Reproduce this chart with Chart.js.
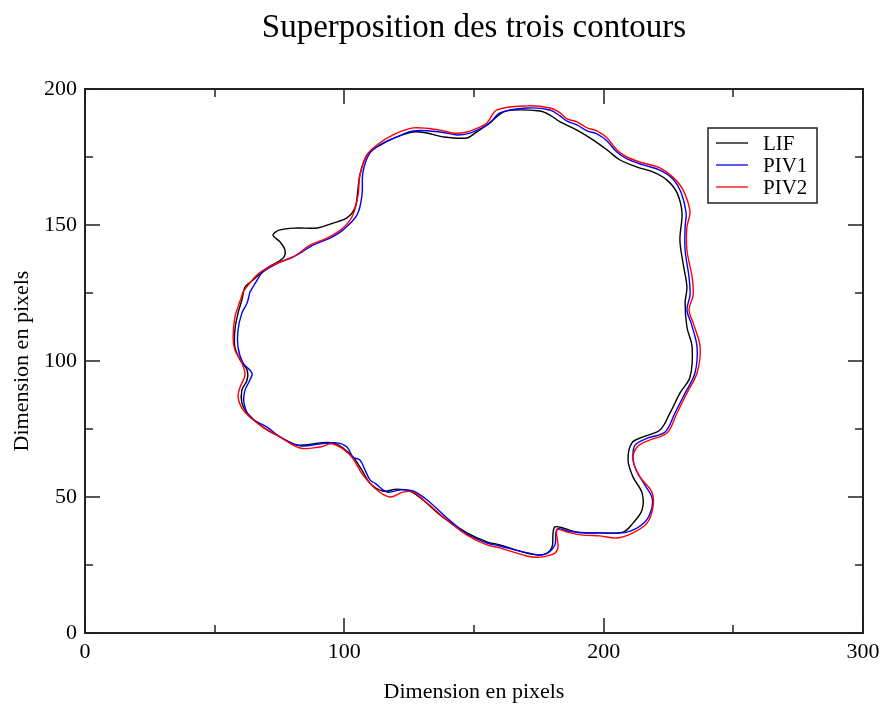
<!DOCTYPE html>
<html lang="fr">
<head>
<meta charset="utf-8">
<title>Superposition des trois contours</title>
<script src="https://cdn.jsdelivr.net/npm/chart.js@4.4.1/dist/chart.umd.min.js"></script>
<style>
  html, body { margin: 0; padding: 0; background: #fff; }
  canvas { display: block; }
</style>
</head>
<body>
<canvas id="chartContours" width="880" height="705"></canvas>
<script>
// Contour LIF
const lifX = [64.8, 70.2, 76.4, 77.1, 75.2, 72.5, 75.2, 81.8, 89.5, 95.6, 101.0, 104.1, 105.3, 106.0, 108.7, 113.8, 120.3, 126.5, 131.9, 138.0,
  147.3, 150.4, 155.0, 157.3, 161.2, 165.0, 175.5, 179.3, 183.2, 189.7, 195.9, 201.3, 206.3, 212.9, 219.0, 224.4, 228.3, 230.2, 229.4, 230.6,
  232.1, 231.4, 232.1, 234.1, 233.3, 229.4, 225.6, 221.7, 215.2, 210.9, 209.4, 211.3, 214.8, 214.8, 211.3, 207.5, 198.6, 189.7, 184.3, 181.2,
  180.5, 180.1, 178.2, 174.3, 167.7, 160.0, 155.0, 147.3, 138.0, 130.3, 125.3, 120.3, 114.9, 109.9, 106.8, 103.3, 99.5, 95.6, 90.6, 81.8,
  75.2, 68.6, 62.5, 60.5, 60.5, 62.5, 62.5, 59.8, 57.8, 57.8, 59.0, 60.5, 61.7, 64.8];
const lifY = [129.8, 134.2, 137.9, 140.8, 143.8, 146.3, 148.2, 148.9, 148.9, 150.7, 152.6, 156.3, 163.6, 168.4, 175.7, 179.4, 182.4, 184.2, 183.8, 182.4,
  182.0, 183.8, 186.8, 188.6, 191.5, 192.3, 191.9, 190.4, 187.9, 184.9, 181.3, 177.6, 173.9, 171.3, 169.5, 166.5, 161.8, 154.4, 144.5, 136.0,
  127.2, 121.3, 112.5, 105.1, 94.1, 88.2, 80.9, 74.6, 72.1, 69.9, 63.6, 57.4, 51.5, 45.2, 40.4, 37.1, 36.8, 37.1, 38.6, 39.0,
  36.8, 31.6, 29.4, 28.7, 30.1, 32.4, 33.5, 36.8, 42.6, 48.9, 52.2, 52.9, 52.2, 55.1, 59.9, 64.7, 68.0, 69.9, 69.9, 69.1,
  72.1, 75.7, 80.9, 84.6, 89.3, 93.0, 96.7, 100.4, 105.1, 111.4, 117.6, 122.4, 127.2, 129.8];

// Contour PIV1
const piv1X = [63.6, 65.9, 68.6, 75.2, 81.8, 87.9, 94.5, 99.5, 104.9, 106.8, 107.2, 109.9, 114.9, 120.3, 126.5, 136.9, 143.4, 148.5, 152.3, 156.2,
  160.0, 170.4, 179.3, 183.2, 185.9, 189.7, 193.6, 197.4, 201.3, 205.1, 209.0, 215.2, 221.7, 226.7, 229.8, 231.8, 231.4, 231.4, 232.9, 233.3,
  232.1, 233.7, 236.0, 235.2, 231.4, 227.5, 223.7, 217.1, 212.1, 211.3, 212.5, 215.9, 218.6, 218.6, 215.9, 209.0, 198.6, 192.0, 185.9, 182.0,
  181.2, 178.5, 175.5, 167.7, 160.0, 155.0, 147.3, 139.6, 131.9, 126.5, 121.5, 116.5, 111.8, 109.9, 108.0, 106.0, 103.3, 101.0, 97.2, 90.6,
  82.9, 75.2, 70.2, 63.6, 61.3, 61.7, 63.6, 64.4, 60.9, 59.0, 59.0, 60.5, 62.5, 63.6];
const piv1Y = [125.4, 129.0, 132.7, 136.4, 139.0, 142.6, 145.2, 148.2, 153.7, 161.0, 169.5, 176.5, 180.1, 182.4, 184.6, 184.2, 183.1, 183.8, 185.3, 187.5,
  191.2, 193.0, 192.3, 190.1, 188.2, 186.8, 184.6, 183.5, 180.9, 176.8, 174.3, 172.1, 170.2, 166.9, 162.1, 154.4, 149.3, 140.8, 130.9, 124.3,
  118.8, 114.0, 105.1, 95.6, 88.2, 80.9, 73.9, 71.7, 69.1, 64.3, 59.9, 54.4, 50.0, 46.0, 40.8, 37.1, 36.8, 36.8, 37.5, 38.2,
  32.4, 29.4, 28.7, 30.1, 32.0, 33.1, 36.4, 42.3, 48.9, 52.2, 52.6, 51.8, 55.1, 56.3, 59.9, 63.6, 64.7, 68.4, 69.9, 69.5,
  68.8, 72.1, 75.7, 79.4, 84.6, 89.3, 93.0, 95.6, 99.3, 105.1, 111.4, 117.6, 121.3, 125.4];

// Contour PIV2
const piv2X = [60.9, 66.3, 72.5, 80.2, 86.8, 93.3, 99.5, 103.3, 105.3, 106.0, 108.7, 112.6, 118.8, 126.5, 136.9, 141.9, 147.3, 152.3, 155.0, 158.9,
  170.4, 179.3, 183.2, 185.9, 189.7, 193.6, 197.4, 201.3, 205.1, 209.0, 215.2, 221.7, 226.7, 230.6, 233.3, 232.1, 232.1, 234.1, 234.5, 232.9,
  234.5, 237.2, 236.0, 232.1, 228.3, 224.4, 217.9, 212.9, 211.3, 214.0, 218.6, 219.0, 216.7, 211.3, 205.1, 198.6, 192.0, 185.9, 182.0, 182.4,
  181.2, 175.5, 170.4, 160.0, 155.0, 147.3, 139.6, 131.9, 126.5, 122.6, 117.6, 112.6, 107.2, 102.2, 95.6, 90.6, 82.9, 75.2, 68.6, 63.6,
  60.5, 59.0, 59.8, 61.7, 60.5, 57.8, 57.1, 57.8, 59.0, 60.2, 60.9];
const piv2Y = [125.4, 131.6, 135.3, 138.2, 142.6, 145.2, 148.9, 153.7, 161.0, 168.4, 175.7, 179.4, 183.1, 185.7, 184.9, 183.8, 184.2, 186.0, 187.5, 192.3,
  193.8, 193.0, 191.2, 189.0, 187.9, 185.7, 184.6, 182.0, 177.6, 175.0, 172.8, 171.0, 167.6, 162.9, 154.8, 149.3, 140.8, 130.9, 124.3, 118.8,
  114.0, 105.1, 95.6, 88.2, 80.9, 73.5, 71.0, 68.4, 63.6, 57.4, 51.8, 46.3, 40.4, 36.8, 34.9, 35.7, 36.0, 37.1, 37.9, 31.6,
  29.4, 27.9, 28.3, 31.3, 32.4, 36.0, 41.5, 47.8, 51.8, 51.8, 50.0, 52.6, 58.1, 65.4, 69.5, 68.4, 68.0, 72.1, 75.7, 79.4,
  82.7, 86.8, 90.4, 94.9, 99.3, 104.0, 108.8, 116.2, 119.9, 123.2, 125.4];

// Graduations
const xTicks = [0, 100, 200, 300];
const yTicks = [0, 50, 100, 150, 200];
const xMinor = [50, 150, 250];
const yMinor = [25, 75, 125, 175];

const serif = '"Liberation Serif", "DejaVu Serif", serif';

function points(xs, ys) {
    return xs.map((v, i) => ({ x: v, y: ys[i] }));
}

// Cadre, graduations internes, titre et légende
const cadre = {
    id: 'cadre',
    afterDraw(chart) {
        const { ctx, chartArea: a, scales: { x, y } } = chart;
        ctx.save();
        ctx.strokeStyle = '#222';
        ctx.lineWidth = 2;
        ctx.strokeRect(a.left, a.top, a.right - a.left, a.bottom - a.top);

        ctx.lineWidth = 1.5;
        ctx.beginPath();
        const tickX = (v, len) => {
            const px = Math.round(x.getPixelForValue(v));
            ctx.moveTo(px, a.bottom); ctx.lineTo(px, a.bottom - len);
            ctx.moveTo(px, a.top); ctx.lineTo(px, a.top + len);
        };
        const tickY = (v, len) => {
            const py = Math.round(y.getPixelForValue(v));
            ctx.moveTo(a.left, py); ctx.lineTo(a.left + len, py);
            ctx.moveTo(a.right, py); ctx.lineTo(a.right - len, py);
        };
        xTicks.forEach(v => tickX(v, 15));
        xMinor.forEach(v => tickX(v, 8));
        yTicks.forEach(v => tickY(v, 15));
        yMinor.forEach(v => tickY(v, 8));
        ctx.stroke();

        // titre
        ctx.fillStyle = '#000';
        ctx.font = '33px ' + serif;
        ctx.textAlign = 'center';
        ctx.textBaseline = 'middle';
        ctx.fillText('Superposition des trois contours', (a.left + a.right) / 2, 28);

        // légende
        const box = { left: 708, top: 128, right: 817, bottom: 203 };
        ctx.strokeStyle = '#222';
        ctx.lineWidth = 1.5;
        ctx.strokeRect(box.left, box.top, box.right - box.left, box.bottom - box.top);
        ctx.font = '21px ' + serif;
        ctx.textAlign = 'left';
        chart.data.datasets.forEach((ds, i) => {
            const ly = 143 + i * 22;
            ctx.strokeStyle = ds.borderColor;
            ctx.lineWidth = 1.3;
            ctx.beginPath();
            ctx.moveTo(716, ly); ctx.lineTo(748, ly);
            ctx.stroke();
            ctx.fillStyle = '#000';
            ctx.fillText(ds.label, 763, ly + 1);
        });
        ctx.restore();
    }
};

const ctx = document.getElementById('chartContours').getContext('2d');
const chart = new Chart(ctx, {
    type: 'scatter',
    data: {
        datasets: [
            { label: 'LIF', data: points(lifX, lifY), borderColor: '#000000', order: 2 },
            { label: 'PIV1', data: points(piv1X, piv1Y), borderColor: '#0000ff', order: 1 },
            { label: 'PIV2', data: points(piv2X, piv2Y), borderColor: '#ff0000', order: 0 }
        ]
    },
    options: {
        responsive: false,
        animation: false,
        showLine: true,
        datasets: {
            scatter: {
                pointRadius: 0,
                pointHoverRadius: 0,
                borderWidth: 1.4,
                tension: 0.35,
                fill: false
            }
        },
        layout: { padding: { top: 89, right: 17, left: 0, bottom: 0 } },
        scales: {
            x: {
                type: 'linear',
                min: 0, max: 300,
                afterFit: s => { s.height = 72; s.paddingLeft = 0; s.paddingRight = 0; },
                afterBuildTicks: s => { s.ticks = xTicks.map(v => ({ value: v })); },
                grid: { display: false, drawTicks: false },
                border: { display: false },
                ticks: { color: '#000', padding: 6, font: { family: serif, size: 22 } },
                title: {
                    display: true, text: 'Dimension en pixels', color: '#000',
                    font: { family: serif, size: 22 }, padding: { top: 0, bottom: 0 }
                }
            },
            y: {
                type: 'linear',
                min: 0, max: 200,
                afterFit: s => { s.width = 85; s.paddingTop = 0; s.paddingBottom = 0; },
                afterBuildTicks: s => { s.ticks = yTicks.map(v => ({ value: v })); },
                grid: { display: false, drawTicks: false },
                border: { display: false },
                ticks: { color: '#000', padding: 8, font: { family: serif, size: 22 } },
                title: {
                    display: true, text: 'Dimension en pixels', color: '#000',
                    font: { family: serif, size: 22 }, padding: { top: 9, bottom: 0 }
                }
            }
        },
        plugins: {
            legend: { display: false },
            tooltip: { enabled: false }
        }
    },
    plugins: [cadre]
});
window.chart = chart;
</script>
</body>
</html>
